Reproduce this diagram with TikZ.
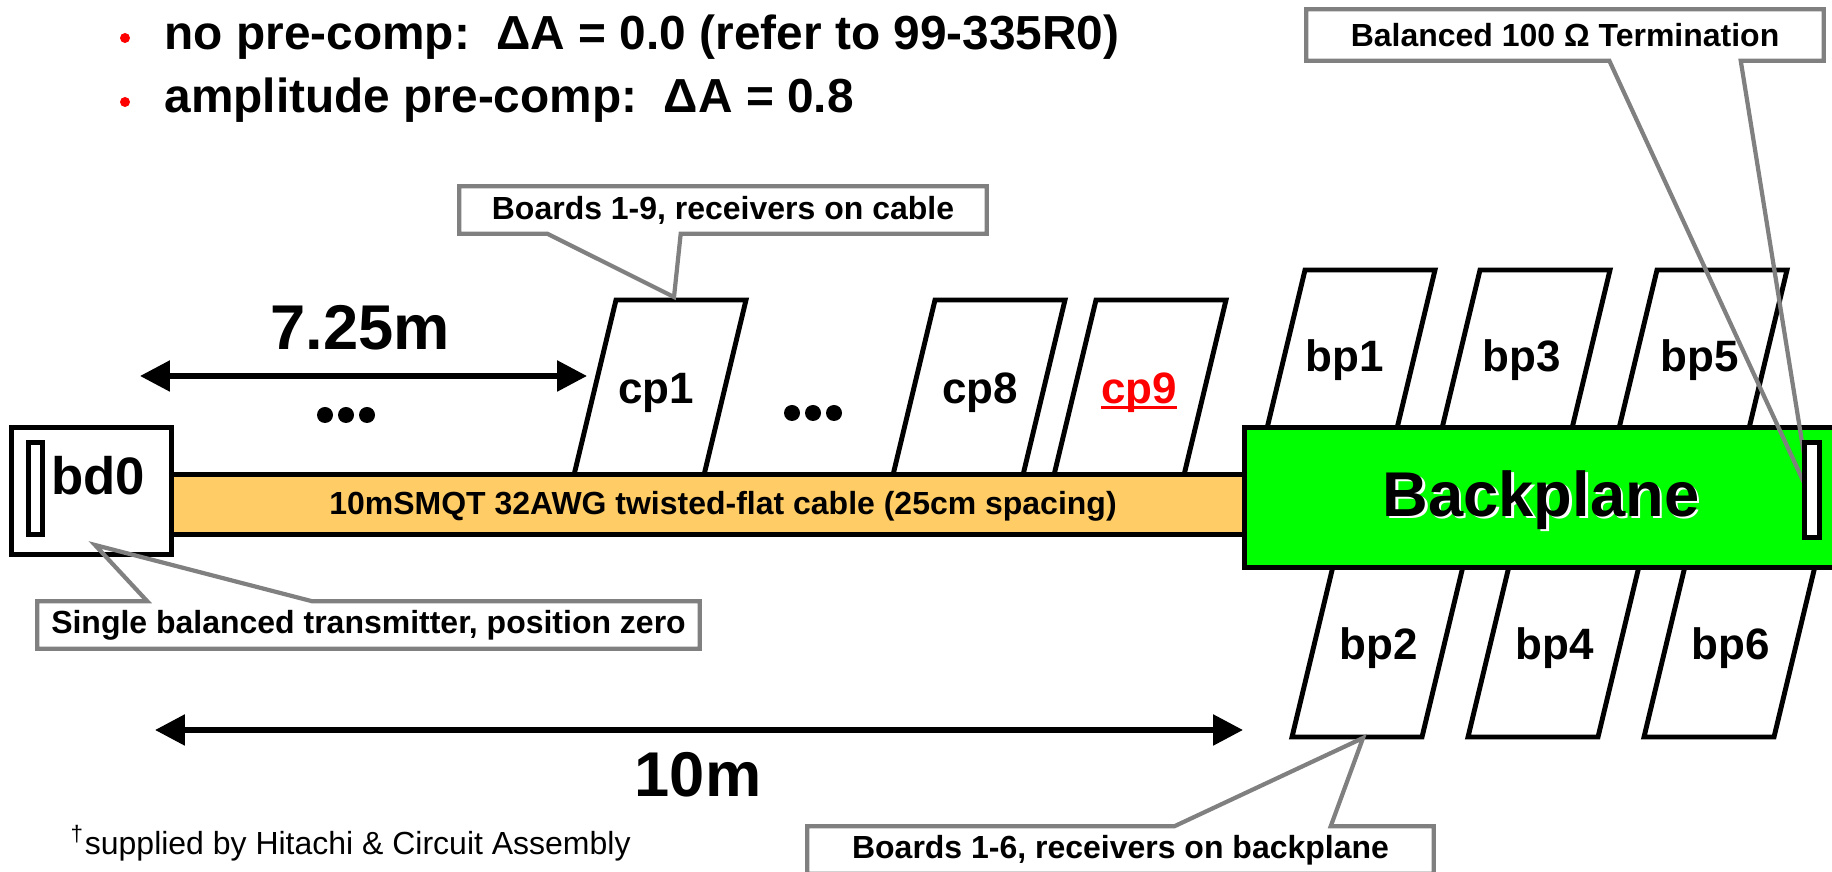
\documentclass[tikz,border=0pt]{standalone}
\usepackage{fontspec}
\setmainfont{Liberation Sans}
\usetikzlibrary{arrows.meta, positioning}
\definecolor{cableorange}{HTML}{FFCC66}
\definecolor{bpgreen}{HTML}{00FF00}
\definecolor{calloutgray}{HTML}{808080}
\newcommand{\ulbase}[1]{\setbox0\hbox{#1}\rlap{\rule[-0.12em]{\wd0}{0.07em}}\box0}

\begin{document}
\begin{tikzpicture}[
    x=0.1mm, y=-0.1mm,
    font=\bfseries,
    >={Triangle[length=8.5pt, width=8.5pt]},
    board/.style={draw=black, line width=1.4pt, fill=white, line join=miter},
    frame/.style={draw=black, line width=1.4pt, inner sep=0pt},
    boardlbl/.style={font=\fontsize{12.5}{15}\selectfont\bfseries, inner sep=0pt},
    biglbl/.style={font=\fontsize{18}{22}\selectfont\bfseries, inner sep=0pt},
    bullettext/.style={font=\fontsize{13.6}{16}\selectfont\bfseries,
        inner sep=0pt, anchor=base west},
    callout/.style={fill=white, inner sep=0pt,
        font=\fontsize{9.1}{11}\selectfont\bfseries},
    wedge/.style={draw=calloutgray, line width=1.2pt, line join=miter},
    dim/.style={<->, line width=1.6pt}
]
\useasboundingbox (0,0) rectangle (1832,872);

% Bullet list at the top
\fill[red] (125,38) circle[radius=0.5mm];
\fill[red] (125,102) circle[radius=0.5mm];
\node[bullettext] (nocomp) at (164,50)
    {no pre-comp:\ \ ΔA = 0.0 (refer to 99-335R0)};
\node[bullettext] (ampcomp) at (164,113)
    {amplitude pre-comp:\ \ ΔA = 0.8};

% Receiver boards on the cable (lower ends hidden by the cable)
\draw[board] (616,300) -- ++(130,0) -- ++(-48,200) -- ++(-130,0) -- cycle;
\draw[board] (935,300) -- ++(130,0) -- ++(-48,200) -- ++(-130,0) -- cycle;
\draw[board] (1096,300) -- ++(130,0) -- ++(-48,200) -- ++(-130,0) -- cycle;

% Receiver boards on the backplane, above and below
\draw[board] (1305,270) -- ++(130,0) -- ++(-48,200) -- ++(-130,0) -- cycle;
\draw[board] (1480,270) -- ++(130,0) -- ++(-48,200) -- ++(-130,0) -- cycle;
\draw[board] (1657,270) -- ++(130,0) -- ++(-48,200) -- ++(-130,0) -- cycle;
\draw[board] (1340,537) -- ++(130,0) -- ++(-48,200) -- ++(-130,0) -- cycle;
\draw[board] (1516,537) -- ++(130,0) -- ++(-48,200) -- ++(-130,0) -- cycle;
\draw[board] (1692,537) -- ++(130,0) -- ++(-48,200) -- ++(-130,0) -- cycle;

% Cable, backplane and transmitter board
\node[frame, fill=cableorange, minimum width=111mm, minimum height=6mm]
    (cable) at (705,504.5) {};
\node[font=\fontsize{9.1}{11}\selectfont\bfseries, inner sep=0pt]
    (cabletext) at (723,506)
    {10mSMQT 32AWG twisted-flat cable (25cm spacing)};
\node[frame, fill=bpgreen, minimum width=61mm, minimum height=14mm]
    (backplane) at (1549.5,497.5) {};
\node[frame, fill=white, minimum width=16mm, minimum height=12.7mm]
    (bdzero) at (91.5,491) {};
\node[frame, fill=white, minimum width=1.4mm, minimum height=9.2mm]
    (bdport) at (35.5,488.5) {};

% Board labels
\node[boardlbl] (bdlbl) at (98,476) {\fontsize{15}{18}\selectfont bd0};
\node[boardlbl] (cpone) at (656,393) {cp1};
\node[boardlbl] (cpeight) at (980,393) {cp8};
\node[boardlbl, text=red] (cpnine) at (1139,393) {\ulbase{cp9}};
\node[boardlbl] (bpone) at (1345,360) {bp1};
\node[boardlbl] (bpthree) at (1522,360) {bp3};
\node[boardlbl] (bpfive) at (1700,360) {bp5};
\node[boardlbl] (bptwo) at (1379,648) {bp2};
\node[boardlbl] (bpfour) at (1555,648) {bp4};
\node[boardlbl] (bpsix) at (1731,648) {bp6};
\node[biglbl, text=white] (bpshadow) at (1543.5,502.5) {Backplane};
\node[biglbl] (bplabel) at (1541,500) {Backplane};

% Omitted boards
\foreach \dx in {0,21,42} {
    \fill ({325+\dx},415) circle[radius=0.8mm];
    \fill ({792+\dx},413) circle[radius=0.8mm];
}

% Distances
\coordinate (sevenleft) at (140,376);
\coordinate (sevenright) at (587,376);
\draw[dim] (sevenleft) -- (sevenright);
\node[biglbl] (sevenlbl) at (360,328) {7.25m};
\coordinate (tenleft) at (155,730);
\coordinate (tenright) at (1243,730);
\draw[dim] (tenleft) -- (tenright);
\node[biglbl] (tenlbl) at (698,775) {10m};

% Callouts
\node[callout, minimum width=52.6mm, minimum height=4.6mm] (cbcable)
    at (723,210) {Boards 1-9, receivers on cable};
\coordinate (cponetip) at (674,297);
\draw[wedge] (cbcable.south west) -- ([xshift=8.8mm]cbcable.south west)
    -- (cponetip) -- ([xshift=-30.6mm]cbcable.south east)
    -- (cbcable.south east) -- (cbcable.north east)
    -- (cbcable.north west) -- cycle;

\node[callout, minimum width=51.6mm, minimum height=5mm] (cbterm)
    at (1565,35) {Balanced 100 Ω Termination};
\coordinate (termtip) at (1811,498);
\draw[wedge] (cbterm.south west) -- ([xshift=30.3mm]cbterm.south west)
    -- (termtip) -- ([xshift=-8.3mm]cbterm.south east)
    -- (cbterm.south east) -- (cbterm.north east)
    -- (cbterm.north west) -- cycle;

\node[callout, minimum width=66.1mm, minimum height=4.6mm] (cbtx)
    at (368.5,625) {Single balanced transmitter, position zero};
\coordinate (bdtip) at (95,545);
\draw[wedge] (cbtx.north west) -- ([xshift=11mm]cbtx.north west)
    -- (bdtip) -- ([xshift=27.5mm]cbtx.north west)
    -- (cbtx.north east) -- (cbtx.south east)
    -- (cbtx.south west) -- cycle;

\node[callout, minimum width=62.5mm, minimum height=4.6mm] (cbbp)
    at (1120.5,850) {Boards 1-6, receivers on backplane};
\coordinate (bptwotip) at (1363,738);
\draw[wedge] (cbbp.north west) -- ([xshift=36.7mm]cbbp.north west)
    -- (bptwotip) -- ([xshift=-10.3mm]cbbp.north east)
    -- (cbbp.north east) -- (cbbp.south east)
    -- (cbbp.south west) -- cycle;

% Termination sits on top of the callout tip
\node[frame, fill=white, minimum width=1.5mm, minimum height=9.5mm]
    (term) at (1812,490) {};

% Footnote
\node[font=\fontsize{9.1}{11}\selectfont\mdseries, inner sep=0pt, anchor=west]
    (supplier) at (70,843)
    {\textsuperscript{\textdagger}supplied by Hitachi \& Circuit Assembly};

\end{tikzpicture}
\end{document}
